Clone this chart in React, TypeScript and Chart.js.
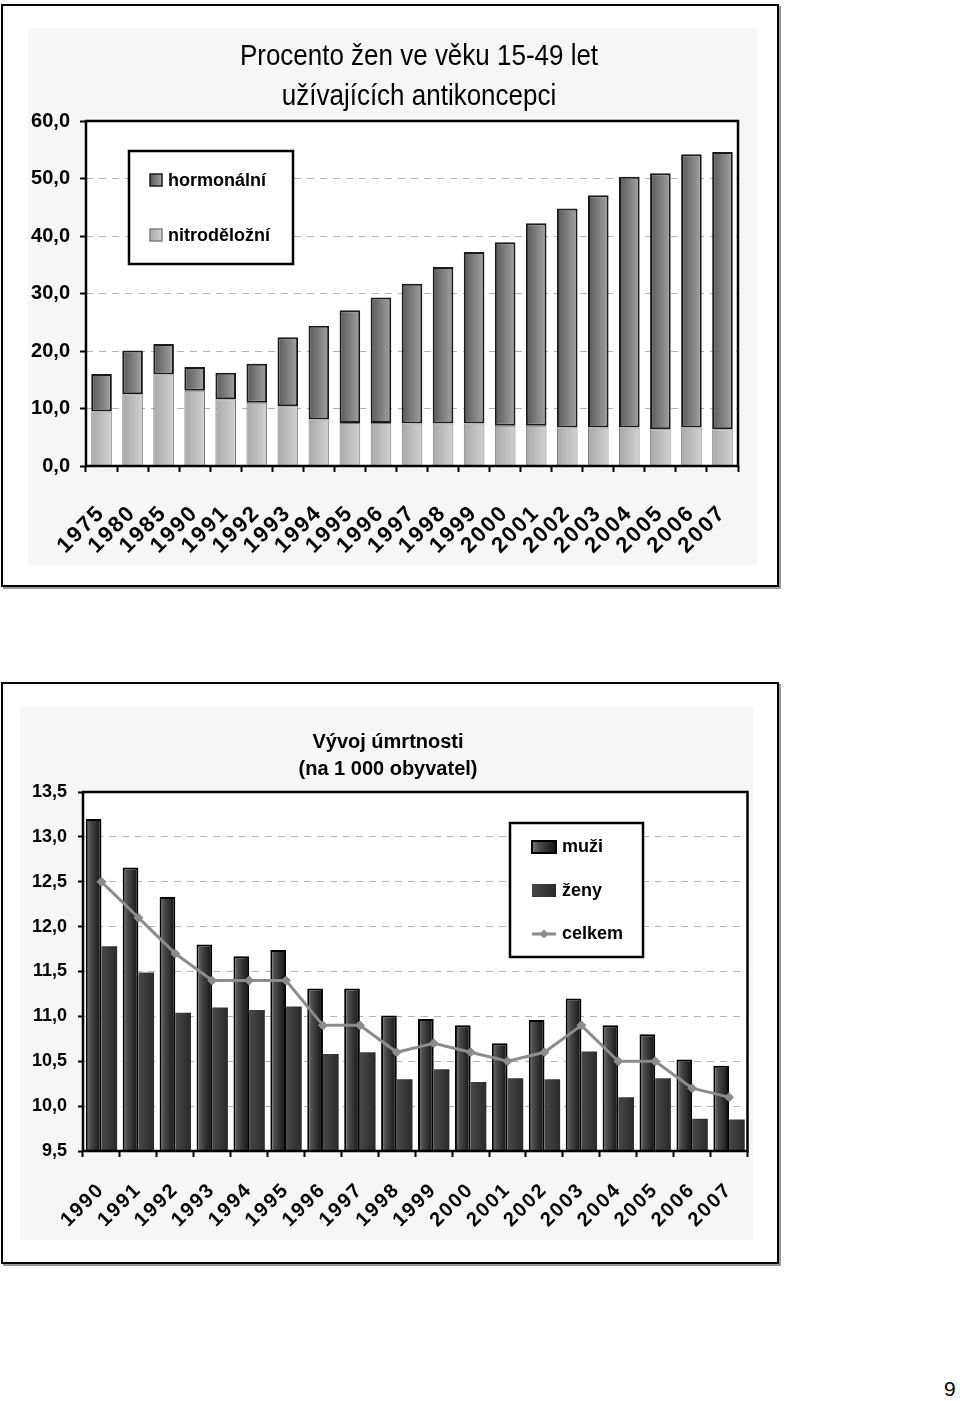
import React, { useEffect, useRef } from "react";
import { Chart, registerables } from "chart.js";

Chart.register(...registerables);

// ---------- DATA ----------
const topTitleLines = ["Procento žen ve věku 15-49 let", "užívajících antikoncepci"];
const contraYears = ["1975", "1980", "1985", "1990", "1991", "1992", "1993", "1994", "1995", "1996", "1997", "1998", "1999", "2000", "2001", "2002", "2003", "2004", "2005", "2006", "2007"];
const iudLabel = "nitroděložní";
const hormonalLabel = "hormonální";
const iudValues = [9.5, 12.5, 15.9, 13.1, 11.6, 11.0, 10.4, 8.1, 7.5, 7.5, 7.4, 7.4, 7.4, 7.0, 7.0, 6.7, 6.7, 6.7, 6.4, 6.7, 6.4];
const hormonalValues = [6.5, 7.6, 5.3, 4.1, 4.6, 6.8, 12.0, 16.3, 19.6, 21.8, 24.3, 27.2, 29.8, 31.9, 35.2, 38.1, 40.4, 43.6, 44.5, 47.5, 48.2];
const contraTicks = { min: 0, max: 60, step: 10 };

const mortTitleLines = ["Vývoj úmrtnosti", "(na 1 000 obyvatel)"];
const mortYears = ["1990", "1991", "1992", "1993", "1994", "1995", "1996", "1997", "1998", "1999", "2000", "2001", "2002", "2003", "2004", "2005", "2006", "2007"];
const menLabel = "muži";
const womenLabel = "ženy";
const totalLabel = "celkem";
const menValues = [13.2, 12.66, 12.33, 11.8, 11.67, 11.74, 11.31, 11.31, 11.01, 10.97, 10.9, 10.7, 10.96, 11.2, 10.9, 10.8, 10.52, 10.45];
const womenValues = [11.78, 11.49, 11.04, 11.1, 11.07, 11.11, 10.58, 10.6, 10.3, 10.41, 10.27, 10.31, 10.3, 10.61, 10.1, 10.31, 9.86, 9.85];
const totalValues = [12.5, 12.1, 11.7, 11.4, 11.4, 11.4, 10.9, 10.9, 10.6, 10.7, 10.6, 10.5, 10.6, 10.9, 10.5, 10.5, 10.2, 10.1];
const mortTicks = { min: 9.5, max: 13.5, step: 0.5 };

const pageNumber = "9";

// ---------- STYLE HELPERS ----------
const FONT = "'Liberation Sans', Arial, Helvetica, sans-serif";
type Stop = [number, string];
const HORM_STOPS: Stop[] = [[0, "#585858"], [1, "#a4a4a4"]];
const IUD_STOPS: Stop[] = [[0, "#a8a8a8"], [1, "#d2d2d2"]];
const MEN_STOPS: Stop[] = [[0, "#7a7a7a"], [0.3, "#4a4a4a"], [1, "#121212"]];
const WOMEN_STOPS: Stop[] = [[0, "#484848"], [1, "#2a2a2a"]];
const LINE_COLOR = "#8c8c8c";

function fmtComma(v: any) {
  return Number(v).toFixed(1).replace(".", ",");
}

function gradAt(ctx: CanvasRenderingContext2D, x0: number, x1: number, stops: Stop[]) {
  const g = ctx.createLinearGradient(x0, 0, x1, 0);
  stops.forEach(([o, c]) => g.addColorStop(o, c));
  return g;
}

function barGrad(stops: Stop[], offsetFrac: number, widthFrac: number) {
  return (c: any) => {
    const chart = c.chart;
    const xs = chart.scales && chart.scales.x;
    if (!xs || c.dataIndex === undefined || !chart.chartArea) return stops[0][1];
    const n = chart.data.labels.length;
    const cat = (xs.right - xs.left) / n;
    const center = xs.getPixelForValue(c.dataIndex) + offsetFrac * cat;
    const w = widthFrac * cat;
    return gradAt(chart.ctx, center - w / 2, center + w / 2, stops);
  };
}

const framePlugin = {
  id: "plotFrame",
  beforeDraw(chart: any) {
    const { ctx, chartArea: a } = chart;
    ctx.save();
    ctx.fillStyle = "#ffffff";
    ctx.fillRect(a.left, a.top, a.right - a.left, a.bottom - a.top);
    ctx.restore();
  },
  afterDatasetsDraw(chart: any) {
    const { ctx, chartArea: a } = chart;
    ctx.save();
    ctx.strokeStyle = "#000";
    ctx.lineWidth = 2.5;
    ctx.strokeRect(a.left, a.top, a.right - a.left, a.bottom - a.top);
    ctx.restore();
  },
};

function titlePlugin(lines: string[], font: string, cx: number, baselines: number[], sx: number) {
  return {
    id: "customTitle",
    afterDraw(chart: any) {
      const c = chart.ctx;
      c.save();
      c.font = font;
      c.fillStyle = "#000";
      c.textAlign = "center";
      c.textBaseline = "alphabetic";
      lines.forEach((t, i) => {
        c.save();
        c.translate(cx, baselines[i]);
        c.scale(sx, 1);
        c.fillText(t, 0, 0);
        c.restore();
      });
      c.restore();
    },
  };
}

function letterSpacingPlugin(ls: string) {
  return {
    id: "xLetterSpacing",
    afterLayout(chart: any) {
      const s: any = chart.scales.x;
      if (s && !s.__lsWrapped) {
        const orig = s.drawLabels.bind(s);
        s.drawLabels = (area: any) => {
          const c: any = chart.ctx;
          const prev = c.letterSpacing;
          c.letterSpacing = ls;
          orig(area);
          c.letterSpacing = prev || "0px";
        };
        s.__lsWrapped = true;
      }
    },
  };
}

function fixX(height: number) {
  return (s: any) => {
    s.height = height;
    s.paddingLeft = 0;
    s.paddingRight = 0;
  };
}

// ---------- TOP CHART ----------
function ContraChart() {
  const ref = useRef<HTMLCanvasElement | null>(null);
  useEffect(() => {
    if (!ref.current) return;
    const BARW = 0.664;
    const legend = {
      id: "boxLegend",
      afterDatasetsDraw(chart: any) {
        const c = chart.ctx;
        const x = 101, y = 123, w = 164, h = 113;
        c.save();
        c.fillStyle = "#fff";
        c.fillRect(x, y, w, h);
        c.strokeStyle = "#000";
        c.lineWidth = 2.5;
        c.strokeRect(x, y, w, h);
        const ds = chart.data.datasets;
        const items = [
          { label: ds[1].label, stops: HORM_STOPS, border: "#1a1a1a", cy: 152 },
          { label: ds[0].label, stops: IUD_STOPS, border: "#808080", cy: 207 },
        ];
        items.forEach((it) => {
          c.fillStyle = gradAt(c, 122, 134, it.stops);
          c.fillRect(122, it.cy - 6, 12, 12);
          c.strokeStyle = it.border;
          c.lineWidth = 1.5;
          c.strokeRect(122, it.cy - 6, 12, 12);
          c.fillStyle = "#000";
          c.font = `bold 18px ${FONT}`;
          c.textAlign = "left";
          c.textBaseline = "middle";
          c.fillText(it.label, 140, it.cy + 1);
        });
        c.restore();
      },
    };
    const chart = new Chart(ref.current, {
      type: "bar",
      data: {
        labels: contraYears,
        datasets: [
          {
            label: iudLabel,
            data: iudValues,
            backgroundColor: barGrad(IUD_STOPS, 0, BARW),
            borderColor: "#7a7a7a",
            borderWidth: 1,
            borderSkipped: "start",
            barPercentage: BARW,
            categoryPercentage: 1,
          },
          {
            label: hormonalLabel,
            data: hormonalValues,
            backgroundColor: barGrad(HORM_STOPS, 0, BARW),
            borderColor: "#1a1a1a",
            borderWidth: 2,
            borderSkipped: false,
            barPercentage: BARW,
            categoryPercentage: 1,
          },
        ],
      },
      options: {
        animation: false,
        responsive: false,
        layout: { padding: { top: 93, right: 19, left: 0, bottom: 0 } },
        plugins: { legend: { display: false }, title: { display: false }, tooltip: { enabled: false } },
        scales: {
          x: {
            stacked: true,
            grid: { display: true, drawOnChartArea: false, drawTicks: true, tickLength: 6, tickColor: "#000", tickWidth: 2, offset: true },
            border: { display: false },
            ticks: {
              autoSkip: false,
              maxRotation: 45,
              minRotation: 45,
              padding: 28,
              color: "#000",
              font: { family: FONT, size: 22, weight: "bold" },
            },
            afterFit: fixX(99),
          },
          y: {
            stacked: true,
            min: contraTicks.min,
            max: contraTicks.max,
            grid: { color: "#b4b4b4", lineWidth: 1, drawTicks: true, tickLength: 6, tickColor: "#000", tickWidth: 2, tickBorderDash: [] },
            border: { display: false, dash: [7, 6] },
            ticks: {
              stepSize: contraTicks.step,
              padding: 10,
              color: "#000",
              font: { family: FONT, size: 20, weight: "bold" },
              callback: fmtComma,
            },
            afterFit: (s: any) => { s.width = 58; },
          },
        },
      } as any,
      plugins: [
        framePlugin,
        legend,
        titlePlugin(topTitleLines, `30px ${FONT}`, 391, [37, 77], 0.866),
        letterSpacingPlugin("2px"),
      ] as any,
    });
    return () => chart.destroy();
  }, []);
  return <canvas ref={ref} width={729} height={537} style={{ display: "block" }} />;
}

// ---------- BOTTOM CHART ----------
function MortChart() {
  const ref = useRef<HTMLCanvasElement | null>(null);
  useEffect(() => {
    if (!ref.current) return;
    const CATP = 0.85;
    const legend = {
      id: "boxLegend",
      afterDatasetsDraw(chart: any) {
        const c = chart.ctx;
        const x = 490, y = 116, w = 133, h = 134;
        c.save();
        c.fillStyle = "#fff";
        c.fillRect(x, y, w, h);
        c.strokeStyle = "#000";
        c.lineWidth = 2.5;
        c.strokeRect(x, y, w, h);
        const ds = chart.data.datasets;
        const sx0 = 512, sx1 = 536;
        // men
        c.fillStyle = gradAt(c, sx0, sx1, MEN_STOPS);
        c.fillRect(sx0, 134, sx1 - sx0, 12);
        c.strokeStyle = "#000";
        c.lineWidth = 2;
        c.strokeRect(sx0, 134, sx1 - sx0, 12);
        // women
        c.fillStyle = gradAt(c, sx0, sx1, WOMEN_STOPS);
        c.fillRect(sx0, 177, sx1 - sx0, 13);
        // total
        c.strokeStyle = LINE_COLOR;
        c.lineWidth = 3;
        c.beginPath();
        c.moveTo(sx0, 227);
        c.lineTo(sx1, 227);
        c.stroke();
        c.fillStyle = LINE_COLOR;
        c.beginPath();
        c.moveTo(524, 222.5);
        c.lineTo(528.5, 227);
        c.lineTo(524, 231.5);
        c.lineTo(519.5, 227);
        c.closePath();
        c.fill();
        c.fillStyle = "#000";
        c.font = `bold 18px ${FONT}`;
        c.textAlign = "left";
        c.textBaseline = "middle";
        c.fillText(ds[0].label, 542, 140);
        c.fillText(ds[1].label, 542, 184);
        c.fillText(ds[2].label, 542, 227);
        c.restore();
      },
    };
    const chart = new Chart(ref.current, {
      type: "bar",
      data: {
        labels: mortYears,
        datasets: [
          {
            type: "bar",
            label: menLabel,
            data: menValues,
            backgroundColor: barGrad(MEN_STOPS, -CATP / 4, CATP / 2),
            borderColor: "#000",
            borderWidth: 2,
            borderSkipped: "start",
            barPercentage: 1,
            categoryPercentage: CATP,
            order: 1,
          },
          {
            type: "bar",
            label: womenLabel,
            data: womenValues,
            backgroundColor: barGrad(WOMEN_STOPS, CATP / 4, CATP / 2),
            borderWidth: 0,
            barPercentage: 1,
            categoryPercentage: CATP,
            order: 2,
          },
          {
            type: "line",
            label: totalLabel,
            data: totalValues,
            borderColor: LINE_COLOR,
            backgroundColor: LINE_COLOR,
            borderWidth: 3,
            pointStyle: "rectRot",
            pointRadius: 4.5,
            pointBackgroundColor: LINE_COLOR,
            pointBorderColor: LINE_COLOR,
            pointBorderWidth: 1,
            tension: 0,
            order: 0,
          },
        ],
      },
      options: {
        animation: false,
        responsive: false,
        layout: { padding: { top: 85, right: 5, left: 0, bottom: 0 } },
        plugins: { legend: { display: false }, title: { display: false }, tooltip: { enabled: false } },
        scales: {
          x: {
            offset: true,
            grid: { display: true, drawOnChartArea: false, drawTicks: true, tickLength: 6, tickColor: "#000", tickWidth: 2, offset: true },
            border: { display: false },
            ticks: {
              autoSkip: false,
              maxRotation: 45,
              minRotation: 45,
              padding: 21,
              color: "#000",
              font: { family: FONT, size: 20, weight: "bold" },
            },
            afterFit: fixX(89),
          },
          y: {
            min: mortTicks.min,
            max: mortTicks.max,
            grid: { color: "#b4b4b4", lineWidth: 1, drawTicks: true, tickLength: 5, tickColor: "#000", tickWidth: 2, tickBorderDash: [] },
            border: { display: false, dash: [7, 6] },
            ticks: {
              stepSize: mortTicks.step,
              padding: 11,
              color: "#000",
              font: { family: FONT, size: 18, weight: "bold" },
              callback: fmtComma,
            },
            afterFit: (s: any) => { s.width = 63; },
          },
        },
      } as any,
      plugins: [
        framePlugin,
        legend,
        titlePlugin(mortTitleLines, `bold 20px ${FONT}`, 368, [41, 68], 1),
        letterSpacingPlugin("2px"),
      ] as any,
    });
    return () => chart.destroy();
  }, []);
  return <canvas ref={ref} width={733} height={533} style={{ display: "block" }} />;
}

export default function App() {
  const frame: React.CSSProperties = {
    position: "absolute",
    border: "2px solid #000",
    boxShadow: "2px 2px 0 #9a9a9a",
    background: "#fff",
    boxSizing: "border-box",
  };
  return (
    <div style={{ position: "absolute", left: 0, top: 0, width: 960, height: 1401, background: "#fff", overflow: "hidden" }}>
      <div style={{ ...frame, left: 1, top: 4, width: 778, height: 583 }} />
      <div style={{ position: "absolute", left: 28, top: 28, width: 729, height: 537, background: "#f6f6f6" }}>
        <ContraChart />
      </div>
      <div style={{ ...frame, left: 1, top: 682, width: 778, height: 582 }} />
      <div style={{ position: "absolute", left: 20, top: 707, width: 733, height: 533, background: "#f6f6f6" }}>
        <MortChart />
      </div>
      <div style={{ position: "absolute", left: 944, top: 1377, fontFamily: FONT, fontSize: 21, color: "#000" }}>{pageNumber}</div>
    </div>
  );
}
